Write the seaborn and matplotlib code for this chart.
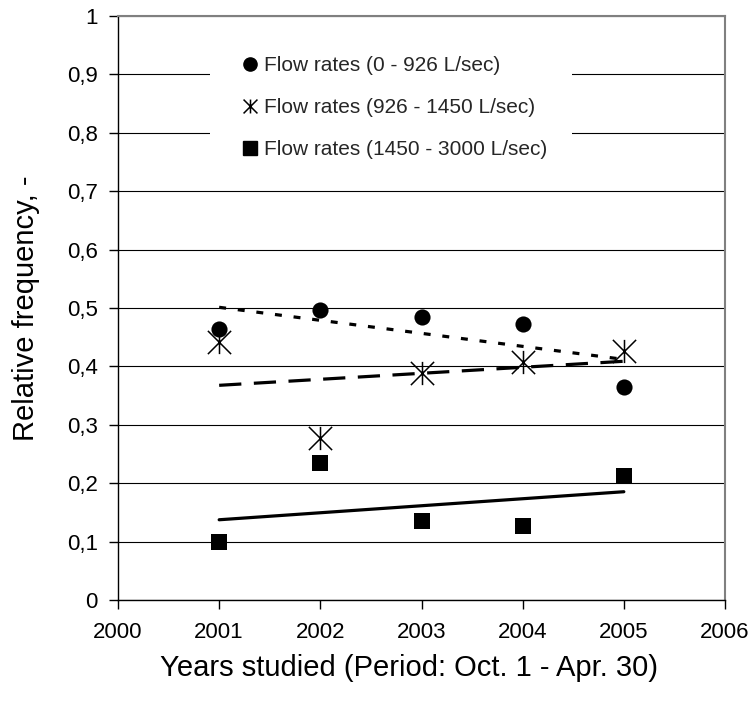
import numpy as np
import pandas as pd
import matplotlib
matplotlib.use("Agg")
import matplotlib.pyplot as plt
import seaborn as sns
from matplotlib.path import Path
from matplotlib.lines import Line2D
from matplotlib.ticker import FuncFormatter, MultipleLocator

# ---- data ----
years = [2001, 2002, 2003, 2004, 2005]
low_flow = [0.464, 0.497, 0.485, 0.472, 0.365]
mid_flow = [0.441, 0.277, 0.388, 0.408, 0.427]
high_flow = [0.099, 0.234, 0.135, 0.126, 0.213]
series_labels = ["Flow rates (0 - 926 L/sec)",
                 "Flow rates (926 - 1450 L/sec)",
                 "Flow rates (1450 - 3000 L/sec)"]
x_label = "Years studied (Period: Oct. 1 - Apr. 30)"
y_label = "Relative frequency, -"

sns.set_theme(style="white")
plt.rcParams["font.family"] = ["Liberation Sans", "DejaVu Sans"]
plt.rcParams["lines.scale_dashes"] = False

# asterisk marker: X plus vertical bar
star = Path([(-1, -1), (1, 1), (-1, 1), (1, -1), (0, -1), (0, 1)],
            [Path.MOVETO, Path.LINETO] * 3)

fig = plt.figure(figsize=(7.56, 7.04), dpi=100)
ax = fig.add_axes([118 / 756, 1 - 600 / 704, 607 / 756, 584 / 704])

# trend lines (linear fits)
sns.regplot(x=years, y=low_flow, scatter=False, ci=None, truncate=True, ax=ax,
            line_kws=dict(color="black", lw=2.3, dashes=(5, 8.5)))
sns.regplot(x=years, y=mid_flow, scatter=False, ci=None, truncate=True, ax=ax,
            line_kws=dict(color="black", lw=2.3, dashes=(16, 9)))
sns.regplot(x=years, y=high_flow, scatter=False, ci=None, truncate=True, ax=ax,
            line_kws=dict(color="black", lw=2.3))

# points
sns.scatterplot(x=years, y=low_flow, marker="o", s=135, color="black",
                edgecolor="black", linewidth=0, ax=ax, zorder=3)
sns.scatterplot(x=years, y=mid_flow, marker=star, s=280, color="black",
                edgecolor="black", linewidth=1.1, ax=ax, zorder=3)
sns.scatterplot(x=years, y=high_flow, marker="s", s=118, color="black",
                edgecolor="black", linewidth=0, ax=ax, zorder=3)

ax.set_xlim(2000, 2006)
ax.set_ylim(0, 1)
ax.xaxis.set_major_locator(MultipleLocator(1))
ax.yaxis.set_major_locator(MultipleLocator(0.1))
ax.yaxis.set_major_formatter(FuncFormatter(lambda v, _: ("%g" % round(v, 1)).replace(".", ",")))
ax.xaxis.set_major_formatter(FuncFormatter(lambda v, _: "%d" % round(v)))

ax.yaxis.grid(True, color="black", lw=0.8)
ax.xaxis.grid(False)
ax.set_axisbelow(True)

for side in ["left", "bottom"]:
    ax.spines[side].set_color("black")
    ax.spines[side].set_linewidth(1.0)
for side in ["top", "right"]:
    ax.spines[side].set_color("#808080")
    ax.spines[side].set_linewidth(1.5)

ax.tick_params(axis="both", which="major", direction="out", length=6.5, width=1,
               color="black", labelsize=16, labelcolor="black",
               bottom=True, left=True)
ax.tick_params(axis="x", pad=9)
ax.tick_params(axis="y", pad=8)

ax.set_xlabel(x_label, fontsize=21, color="black", labelpad=8, x=0.479)
ax.set_ylabel(y_label, fontsize=21, color="black", labelpad=19)

handles = [
    Line2D([], [], ls="none", marker="o", color="black", markersize=9.5),
    Line2D([], [], ls="none", marker=star, color="black", markersize=10,
           markeredgewidth=1.1, markerfacecolor="black"),
    Line2D([], [], ls="none", marker="s", color="black", markersize=9.5),
]
leg = ax.legend(handles, series_labels, loc="upper left",
                bbox_to_anchor=(0.1516, 0.974), borderaxespad=0,
                fontsize=15, frameon=True,
                facecolor="white", edgecolor="none", framealpha=1,
                handlelength=1.44, handletextpad=-0.05, labelspacing=1.1,
                borderpad=1.2, fancybox=False)

fig.savefig("out.png", dpi=100, facecolor="white")
